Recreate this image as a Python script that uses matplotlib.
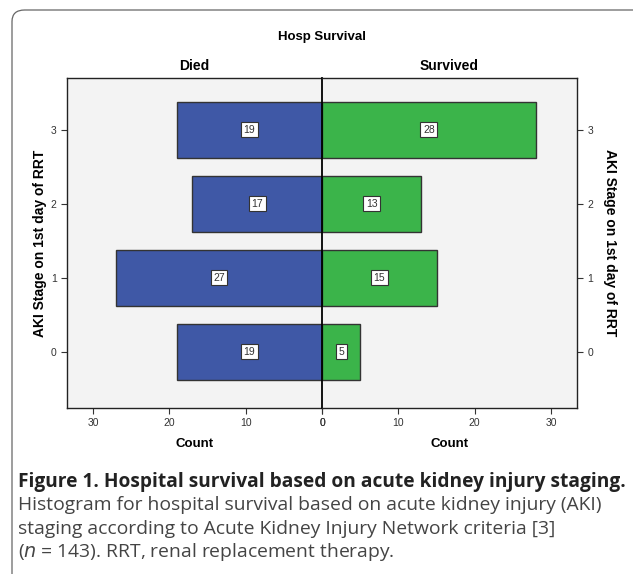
import matplotlib.pyplot as plt
from matplotlib.patches import FancyBboxPatch

stages = [0, 1, 2, 3]
died = [19, 27, 17, 19]
survived = [5, 15, 13, 28]
ticks = [0, 10, 20, 30]

blue = '#3F58A6'
green = '#3BB44A'
bg = '#F3F3F3'

plt.rcParams['font.family'] = ['Liberation Sans', 'DejaVu Sans']

fig = plt.figure(figsize=(6.33, 5.74), dpi=100)

# outer rounded frame
box = FancyBboxPatch((12 / 633, -0.05), 1.1, 1.05 - 10 / 574,
                     boxstyle='round,pad=0,rounding_size=0.02',
                     transform=fig.transFigure, fill=False,
                     edgecolor='#666666', linewidth=0.9)
fig.patches.append(box)

x0, x1, xr = 67 / 633, 322 / 633, 577 / 633
yb, yt = 1 - 408 / 574, 1 - 78 / 574
axl = fig.add_axes([x0, yb, x1 - x0, yt - yb])
axr = fig.add_axes([x1, yb, xr - x1, yt - yb])

lim = 33.4
for ax, vals, col in [(axl, died, blue), (axr, survived, green)]:
    ax.set_facecolor(bg)
    ax.barh(stages, vals, height=0.76, color=col, edgecolor='#333333', linewidth=1.0, zorder=2)
    for s, v in zip(stages, vals):
        ax.text(v / 2, s, str(v), ha='center', va='center', fontsize=7.5, color='#333333', zorder=3,
                bbox=dict(boxstyle='square,pad=0.25', fc='white', ec='#333333', lw=0.8))
    ax.set_xlim(0, lim)
    ax.set_ylim(-0.76, 3.7)
    ax.set_xticks(ticks)
    ax.set_yticks(stages)
    ax.tick_params(labelsize=7.5, colors='#333333', length=4, width=0.8)
    for sp in ax.spines.values():
        sp.set_linewidth(1.0)
        sp.set_color('#222222')
    ax.set_xlabel('Count', fontsize=9.5, fontweight='bold', labelpad=7)

axl.invert_xaxis()
axl.spines['right'].set_visible(False)
axr.spines['left'].set_linewidth(1.3)
axr.spines['left'].set_color('black')
axr.tick_params(axis='y', left=False, labelleft=False, right=True, labelright=True)
axl.set_ylabel('AKI Stage on 1st day of RRT', fontsize=10, fontweight='bold', labelpad=3)
axr.yaxis.set_label_position('right')
axr.set_ylabel('AKI Stage on 1st day of RRT', fontsize=10, fontweight='bold', labelpad=7, rotation=270, va='bottom')
axl.set_title('Died', fontsize=10, fontweight='bold', pad=6)
axr.set_title('Survived', fontsize=10, fontweight='bold', pad=6)

fig.text(322 / 633, 1 - 37 / 574, 'Hosp Survival', ha='center', va='center', fontsize=9.5, fontweight='bold')

cap = ['Histogram for hospital survival based on acute kidney injury (AKI)',
       'staging according to Acute Kidney Injury Network criteria [3]',
       '($n$ = 143). RRT, renal replacement therapy.']
fig.text(18 / 633, 1 - 482 / 574, 'Figure 1. Hospital survival based on acute kidney injury staging.',
         ha='left', va='center', fontsize=13.8, fontweight='bold', family=['Open Sans', 'DejaVu Sans'], color='#222222')
for i, line in enumerate(cap):
    fig.text(18 / 633, 1 - (505 + 23.5 * i) / 574, line, ha='left', va='center', fontsize=13.9,
             family=['Open Sans', 'DejaVu Sans'], color='#444444')

fig.savefig('out.png', dpi=100)
